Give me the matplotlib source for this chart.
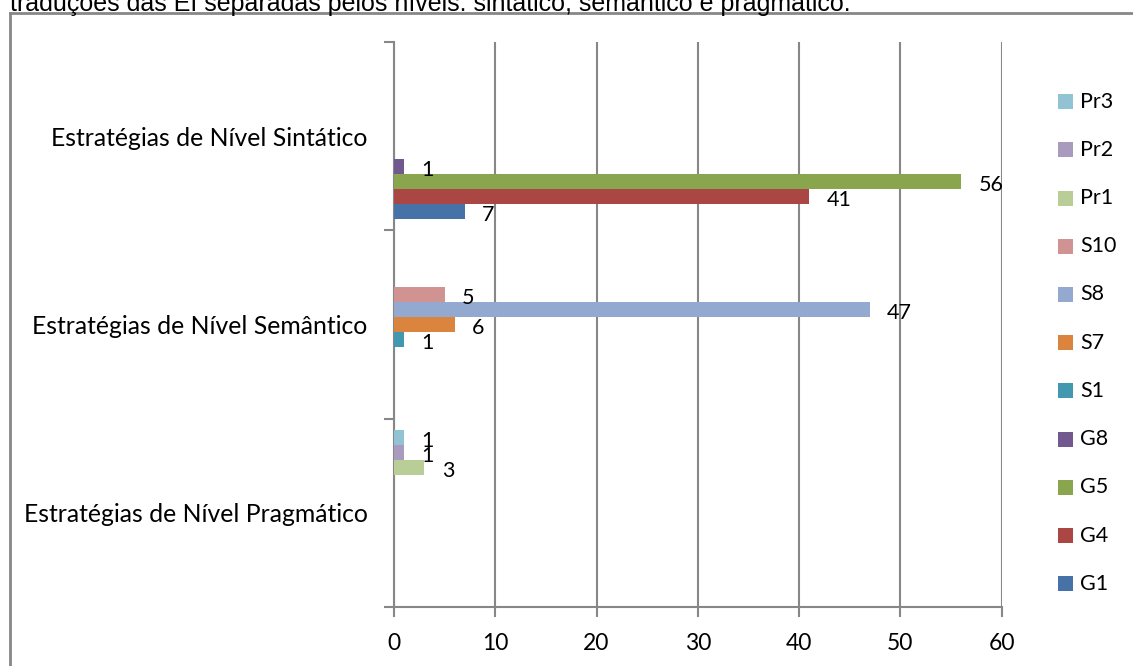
import matplotlib.pyplot as plt
from matplotlib.patches import Rectangle
from matplotlib.lines import Line2D
import numpy as np

# categories from bottom to top
categories = ['Estratégias de Nível Pragmático',
              'Estratégias de Nível Semântico',
              'Estratégias de Nível Sintático']

series_names = ['G1', 'G4', 'G5', 'G8', 'S1', 'S7', 'S8', 'S10', 'Pr1', 'Pr2', 'Pr3']
# values per category (Pragmático, Semântico, Sintático); None = no bar
G1 = [None, None, 7]
G4 = [None, None, 41]
G5 = [None, None, 56]
G8 = [None, None, 1]
S1 = [None, 1, None]
S7 = [None, 6, None]
S8 = [None, 47, None]
S10 = [None, 5, None]
Pr1 = [3, None, None]
Pr2 = [1, None, None]
Pr3 = [1, None, None]
series_values = [G1, G4, G5, G8, S1, S7, S8, S10, Pr1, Pr2, Pr3]

colors = ['#4672A8', '#AA4643', '#89A54E', '#71588F', '#4198AF', '#DB843D',
          '#93A9CF', '#D19392', '#B9CD96', '#A99BBD', '#92C3D4']

x_ticks = [0, 10, 20, 30, 40, 50, 60]

plt.rcParams['font.family'] = ['Lato', 'DejaVu Sans']
W, H = 1133, 666
fig = plt.figure(figsize=(W / 100, H / 100), dpi=100)
ax = fig.add_axes([394 / W, 1 - 607 / H, (1001.5 - 394) / W, (607 - 42) / H])

grey = '#878787'
bar_h = 0.08
n = len(series_names)
y_base = np.arange(len(categories))
for i, (name, vals, c) in enumerate(zip(series_names, series_values, colors)):
    off = (i - (n - 1) / 2) * bar_h
    for j, v in enumerate(vals):
        if v is None:
            continue
        ax.barh(y_base[j] + off, v, height=bar_h, color=c, linewidth=0, zorder=3)
        ax.annotate(str(v), (v, y_base[j] + off), xytext=(12.5, -2.5),
                    textcoords='offset points', ha='left', va='center',
                    fontsize=15.5, color='black', zorder=4)

ax.set_xlim(0, 60)
ax.set_ylim(-0.5, 2.5)
ax.set_xticks(x_ticks)
ax.set_xticklabels([str(t) for t in x_ticks], fontsize=16.5)
ax.grid(axis='x', color=grey, linewidth=1.5, zorder=0)
ax.set_axisbelow(True)

# category boundaries carry the tick marks, labels sit in between
ax.set_yticks([-0.5, 0.5, 1.5, 2.5])
ax.set_yticklabels([])
ax.set_yticks(y_base, minor=True)
ax.set_yticklabels(categories, minor=True, fontsize=17.8)
ax.tick_params(axis='y', which='major', length=7, width=1.5, color=grey, direction='out')
ax.tick_params(axis='y', which='minor', length=0, pad=19)
ax.tick_params(axis='x', length=7, width=1.5, color=grey, direction='out', pad=12)

for s in ['top', 'right']:
    ax.spines[s].set_visible(False)
for s in ['left', 'bottom']:
    ax.spines[s].set_color(grey)
    ax.spines[s].set_linewidth(1.5)

# legend, top entry is the last series
for k, (name, c) in enumerate(zip(series_names[::-1], colors[::-1])):
    yc = 101.7 + k * 48.2
    fig.patches.append(Rectangle((1058 / W, 1 - (yc + 7.5) / H), 15 / W, 15 / H,
                                 transform=fig.transFigure, color=c, linewidth=0))
    fig.text(1080 / W, 1 - yc / H, name, fontsize=15.5, va='center', ha='left')

# outer frame of the chart
fig.add_artist(Line2D([10 / W, 10 / W], [0, 1 - 13 / H], color=grey, linewidth=2))
fig.add_artist(Line2D([10 / W, 1], [1 - 13 / H, 1 - 13 / H], color=grey, linewidth=2))

# caption line above the chart, cut at the top edge
fig.text(10 / W, 1 - 11 / H, 'traduções das EI separadas pelos níveis: sintático, semântico e pragmático.',
         fontsize=18, family='Liberation Sans', va='baseline', ha='left')

fig.savefig('out.png', dpi=100)
